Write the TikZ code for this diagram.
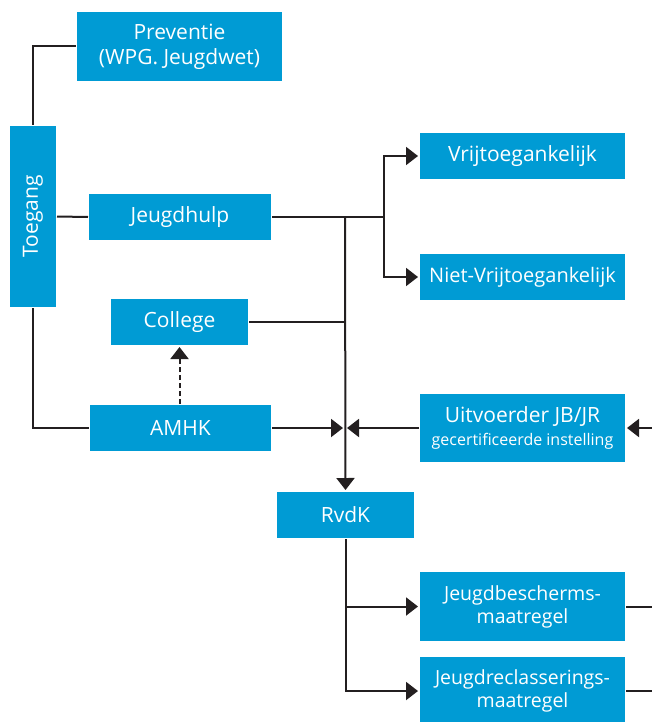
\documentclass[tikz,border=0pt]{standalone}
\usepackage{fontspec}
\setmainfont{Open Sans}
\usetikzlibrary{arrows.meta}

\definecolor{rijkblauw}{RGB}{0,155,212}
\definecolor{lijn}{RGB}{35,31,32}

\tikzstyle{b} = [rectangle, fill=rijkblauw, draw=none, text=white, minimum width=205pt, minimum height=46pt, inner sep=0pt, align=center, font=\fontsize{21}{25}\selectfont]
\tikzstyle{pijl} = [-{Triangle[length=12pt,width=18pt]}, shorten >=1pt]

\begin{document}
\begin{tikzpicture}[x=1pt,y=-1pt,line width=2pt,draw=lijn]
\useasboundingbox (0,0) rectangle (652,722);

\node[b, minimum height=69pt] (Prev) at (179.5,46.5) {Preventie\\(WPG. Jeugdwet)};
\node[b, minimum width=46pt, minimum height=181pt] (Toeg) at (33,216.5) {\rotatebox{90}{Toegang}};
\node[b, minimum width=182pt] (Jh) at (180,217) {Jeugdhulp};
\node[b, minimum width=137pt] (Coll) at (179.5,322) {College};
\node[b, minimum width=181pt] (Amhk) at (180.5,428) {AMHK};

\node[b] (Vrij) at (522.5,156) {Vrijtoegankelijk};
\node[b, font=\fontsize{20}{24}\selectfont] (NVrij) at (522.5,277) {Niet-Vrijtoegankelijk};
\node[b, minimum height=68pt] (Uitv) at (522.5,428) {Uitvoerder JB/JR\\[-2pt]{\fontsize{16}{19}\selectfont gecertificeerde instelling}};

\node[b, minimum width=137pt] (Rvdk) at (345.5,515) {RvdK};
\node[b, minimum height=69pt, font=\fontsize{19.5}{23}\selectfont] (JB) at (522.5,606.5) {Jeugdbescherms-\\maatregel};
\node[b, minimum height=68pt, font=\fontsize{19.5}{23}\selectfont] (JR) at (522.5,691) {Jeugdreclasserings-\\maatregel};

\coordinate (split) at (384,217);
\coordinate (mid) at (345,217);
\coordinate (uitR) at (652,428);
\coordinate (jbR) at (652,606.5);
\coordinate (jrR) at (652,691);

\draw (Toeg.north) |- (Prev.west);
\draw (Toeg.south) |- (Amhk.west);
\draw (Toeg.east) -- (Jh.west);
\draw (Jh.east) -- (split);
\draw[pijl] (split) |- (Vrij.west);
\draw[pijl] (split) |- (NVrij.west);
\draw[pijl] (mid) -- (Rvdk.north);
\draw (Coll.east) -- (Coll.east -| mid);
\draw[pijl, shorten >=2pt] (Amhk.east) -- (Amhk.east -| mid);
\draw[pijl, shorten >=2pt] (Uitv.west) -- (Uitv.west -| mid);
\draw[pijl] (uitR) -- (Uitv.east);
\draw[pijl, dashed, dash pattern=on 5pt off 3pt] (Coll.south |- Amhk.north) -- (Coll.south);
\draw[pijl] (Rvdk.south) |- (JB.west);
\draw[pijl] (Rvdk.south) |- (JR.west);
\draw (JB.east) -- (jbR);
\draw (JR.east) -- (jrR);

\end{tikzpicture}
\end{document}
